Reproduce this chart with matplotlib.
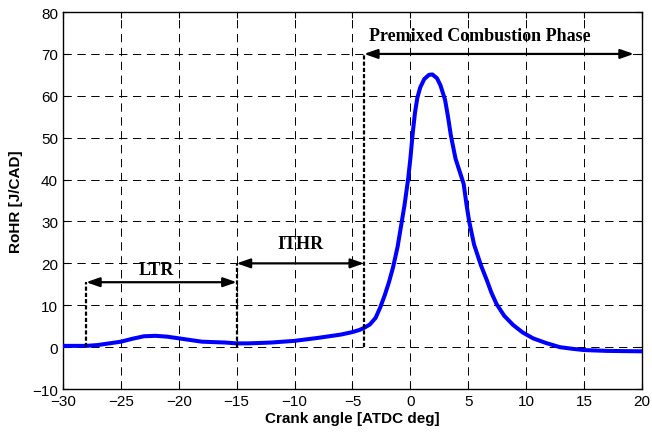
import numpy as np
import matplotlib
matplotlib.use('Agg')
import matplotlib.pyplot as plt

plt.rcParams['font.family'] = ['Liberation Sans', 'DejaVu Sans']
plt.rcParams['lines.scale_dashes'] = False

# crank angle [deg] and rate of heat release [J/CAD]
ca = [-30, -28, -27, -26, -25, -24, -23, -22, -21, -20, -19, -18, -17, -16, -15,
      -14, -12, -10, -8, -7, -6, -5, -4.4, -4, -3.5, -3, -2.6, -2.2, -1.85, -1.5,
      -1.1, -0.8, -0.5, -0.2, 0, 0.2, 0.4, 0.6, 0.85, 1.2, 1.6, 1.9, 2.3, 2.6,
      3.0, 3.25, 3.5, 3.9, 4.25, 4.6, 4.85, 5.08, 5.5, 6.1, 6.6, 7.0, 7.44, 8.1,
      8.87, 9.7, 10.6, 11.7, 12.9, 14, 15, 17, 20]
rohr = [0.3, 0.3, 0.5, 0.9, 1.3, 2.0, 2.6, 2.7, 2.5, 2.1, 1.7, 1.3, 1.2, 1.1, 0.9,
        0.9, 1.1, 1.5, 2.2, 2.6, 3.0, 3.6, 4.1, 4.6, 5.4, 7.0, 9.5, 12.5, 15.5, 19,
        24, 29, 34, 40, 45, 51, 56, 59.5, 62, 64, 65, 65.1, 64.2, 62.5,
        59, 55, 50.5, 45, 42, 39, 34, 30, 24.5, 19.5, 16, 13, 10.3, 7.5,
        5.3, 3.5, 2.1, 1.0, 0.0, -0.4, -0.7, -0.9, -1.0]

# phase markers: start, end, arrow height
ltr = (-28, -15, 15.5)
ithr = (-15, -4, 20)
pcp = (-4, 20, 70)

fig = plt.figure(figsize=(6.52, 4.35), dpi=100)
ax = fig.add_axes([0.0966, 0.1034, 0.888, 0.8666])

ax.plot(ca, rohr, color=(0, 0, 1), lw=2.9, solid_capstyle='round',
        solid_joinstyle='round', zorder=3)

ax.set_xlim(-30, 20)
ax.set_ylim(-10, 80)
ax.set_xticks(np.arange(-30, 21, 5))
ax.set_yticks(np.arange(-10, 81, 10))
ax.grid(True, color='black', lw=0.7, linestyle=(0, (6, 4)))
ax.tick_params(direction='in', top=True, right=True, labelsize=11, length=4, width=0.8)
for s in ax.spines.values():
    s.set_linewidth(1.0)
ax.set_xlabel('Crank angle [ATDC deg]', fontsize=11, fontweight='bold', labelpad=2)
ax.set_ylabel('RoHR [J/CAD]', fontsize=11, fontweight='bold', labelpad=7)

vdash = dict(color='black', lw=1.6, linestyle=(0, (3, 1.5)), zorder=4)
ax.plot([ltr[0], ltr[0]], [0, ltr[2]], **vdash)
ax.plot([ithr[0], ithr[0]], [0, ithr[2]], **vdash)
ax.plot([pcp[0], pcp[0]], [0, pcp[2]], **vdash)

arr = dict(arrowstyle='<|-|>,head_length=0.8,head_width=0.28', color='black', lw=1.6,
           shrinkA=0, shrinkB=0)
for a, b, y in [ltr, ithr, (pcp[0], 19.3, pcp[2])]:
    ax.annotate('', xy=(b, y), xytext=(a, y), arrowprops=arr, zorder=5)

tfont = dict(family='Liberation Serif', fontweight='bold', fontsize=13, ha='center', va='center')
ax.text(-21.9, 18.6, 'LTR', **tfont)
ax.text(-9.5, 24.8, 'ITHR', **tfont)
ax.text(6.0, 74.4, 'Premixed Combustion Phase', **tfont)

fig.savefig('out.png', dpi=100)
